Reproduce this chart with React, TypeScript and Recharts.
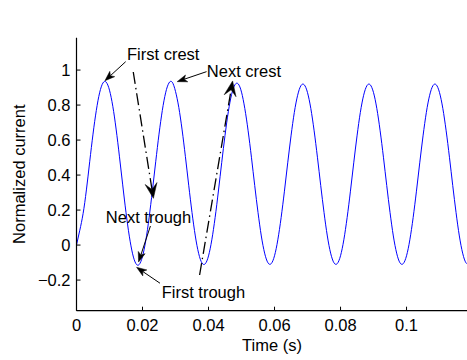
import React from 'react';
import { LineChart, Line, XAxis, YAxis, ReferenceLine, ReferenceDot } from 'recharts';

// Sampled current waveform (1 ms steps)
const timeSeconds = [
  0, 0.001, 0.002, 0.003, 0.004, 0.005, 0.006, 0.007, 0.008, 0.009,
  0.01, 0.011, 0.012, 0.013, 0.014, 0.015, 0.016, 0.017, 0.018, 0.019,
  0.02, 0.021, 0.022, 0.023, 0.024, 0.025, 0.026, 0.027, 0.028, 0.029,
  0.03, 0.031, 0.032, 0.033, 0.034, 0.035, 0.036, 0.037, 0.038, 0.039,
  0.04, 0.041, 0.042, 0.043, 0.044, 0.045, 0.046, 0.047, 0.048, 0.049,
  0.05, 0.051, 0.052, 0.053, 0.054, 0.055, 0.056, 0.057, 0.058, 0.059,
  0.06, 0.061, 0.062, 0.063, 0.064, 0.065, 0.066, 0.067, 0.068, 0.069,
  0.07, 0.071, 0.072, 0.073, 0.074, 0.075, 0.076, 0.077, 0.078, 0.079,
  0.08, 0.081, 0.082, 0.083, 0.084, 0.085, 0.086, 0.087, 0.088, 0.089,
  0.09, 0.091, 0.092, 0.093, 0.094, 0.095, 0.096, 0.097, 0.098, 0.099,
  0.1, 0.101, 0.102, 0.103, 0.104, 0.105, 0.106, 0.107, 0.108, 0.109,
  0.11, 0.111, 0.112, 0.113, 0.114, 0.115, 0.116, 0.117, 0.118, 0.119,
];

const normalizedCurrent = [
  0, 0.085, 0.18, 0.315, 0.476, 0.634, 0.769, 0.87, 0.926, 0.931,
  0.885, 0.793, 0.663, 0.508, 0.344, 0.186, 0.051, -0.05, -0.106, -0.111,
  -0.065, 0.027, 0.157, 0.312, 0.476, 0.634, 0.769, 0.87, 0.926, 0.931,
  0.878, 0.786, 0.658, 0.505, 0.342, 0.186, 0.052, -0.047, -0.102, -0.107,
  -0.062, 0.03, 0.157, 0.309, 0.472, 0.627, 0.762, 0.861, 0.916, 0.921,
  0.874, 0.78, 0.653, 0.502, 0.34, 0.186, 0.052, -0.046, -0.101, -0.106,
  -0.061, 0.03, 0.157, 0.308, 0.47, 0.624, 0.758, 0.856, 0.911, 0.916,
  0.871, 0.78, 0.653, 0.502, 0.34, 0.186, 0.052, -0.046, -0.101, -0.106,
  -0.061, 0.03, 0.157, 0.308, 0.47, 0.624, 0.758, 0.856, 0.911, 0.916,
  0.871, 0.78, 0.653, 0.502, 0.34, 0.186, 0.052, -0.046, -0.101, -0.106,
  -0.061, 0.03, 0.157, 0.308, 0.47, 0.624, 0.758, 0.856, 0.911, 0.916,
  0.871, 0.78, 0.653, 0.502, 0.34, 0.186, 0.052, -0.046, -0.101, -0.106,
];

const timeTicks = [0, 0.02, 0.04, 0.06, 0.08, 0.1];
const timeTickLabels = ['0', '0.02', '0.04', '0.06', '0.08', '0.1'];
const currentTicks = [-0.2, 0, 0.2, 0.4, 0.6, 0.8, 1];
const currentTickLabels = ['\u22120.2', '0', '0.2', '0.4', '0.6', '0.8', '1'];
const timeDomain = [0, 0.1185];
const currentDomain = [-0.375, 1.185];

// Text notes, anchored at their left baseline (time, current)
const noteLabels = ['First crest', 'Next crest', 'Next trough', 'First trough'];
const noteTimes = [0.0153, 0.0395, 0.0089, 0.0258];
const noteCurrents = [1.058, 0.962, 0.125, -0.304];

// Arrows: tail -> tip; the last two are dash-dot pointers
const arrowFromTime = [0.0149, 0.0394, 0.0224, 0.0253, 0.0172, 0.0373];
const arrowFromCurrent = [1.048, 0.991, 0.109, -0.218, 0.989, -0.171];
const arrowToTime = [0.0086, 0.0305, 0.0188, 0.0182, 0.0233, 0.0473];
const arrowToCurrent = [0.939, 0.934, -0.097, -0.127, 0.267, 0.938];
const arrowDashDot = [false, false, false, false, true, true];

const chartData = timeSeconds.map((time, i) => ({ time, current: normalizedCurrent[i] }));

const FONT = '"Liberation Sans", Arial, Helvetica, sans-serif';
const FONT_SIZE = 16.5;
const TICK_LEN = 4;

const BottomTick = (props: any) => {
  const { x, y, payload } = props;
  const i = timeTicks.indexOf(payload.value);
  return (
    <g>
      <line x1={x} x2={x} y1={y} y2={y - TICK_LEN} stroke="#000" strokeWidth={1} />
      <text x={x} y={y + 20} textAnchor="middle" fontFamily={FONT} fontSize={FONT_SIZE} fill="#000">
        {i >= 0 ? timeTickLabels[i] : ''}
      </text>
    </g>
  );
};

const TopTick = (props: any) => {
  const { x, y } = props;
  return <line x1={x} x2={x} y1={y} y2={y + TICK_LEN} stroke="#000" strokeWidth={1} />;
};

const LeftTick = (props: any) => {
  const { x, y, payload } = props;
  const i = currentTicks.indexOf(payload.value);
  return (
    <g>
      <line x1={x} x2={x + TICK_LEN} y1={y} y2={y} stroke="#000" strokeWidth={1} />
      <text x={x - 6} y={y} dy="0.36em" textAnchor="end" fontFamily={FONT} fontSize={FONT_SIZE} fill="#000">
        {i >= 0 ? currentTickLabels[i] : ''}
      </text>
    </g>
  );
};

const RightTick = (props: any) => {
  const { x, y } = props;
  return <line x1={x} x2={x - TICK_LEN} y1={y} y2={y} stroke="#000" strokeWidth={1} />;
};

const makeArrow = (dashDot: boolean) => (props: any) => {
  const { x1, y1, x2, y2 } = props;
  const dx = x2 - x1;
  const dy = y2 - y1;
  const len = Math.hypot(dx, dy) || 1;
  const ux = dx / len;
  const uy = dy / len;
  const nx = -uy;
  const ny = ux;
  const headLen = dashDot ? 15 : 10;
  const headHalf = dashDot ? 6 : 3.6;
  const notch = dashDot ? 6 : 2.5;
  const bx = x2 - ux * headLen;
  const by = y2 - uy * headLen;
  const mx = x2 - ux * (headLen - notch);
  const my = y2 - uy * (headLen - notch);
  const pts = [
    [x2, y2],
    [bx + nx * headHalf, by + ny * headHalf],
    [mx, my],
    [bx - nx * headHalf, by - ny * headHalf],
  ]
    .map((p) => p.join(','))
    .join(' ');
  return (
    <g>
      <line
        x1={x1}
        y1={y1}
        x2={mx}
        y2={my}
        stroke="#000"
        strokeWidth={dashDot ? 1.3 : 1}
        strokeDasharray={dashDot ? '12 4 1.5 4' : undefined}
      />
      <polygon points={pts} fill="#000" stroke="#000" strokeWidth={0.5} />
    </g>
  );
};

const makeNote = (text: string) => (props: any) => (
  <text x={props.cx} y={props.cy} textAnchor="start" fontFamily={FONT} fontSize={FONT_SIZE} fill="#000">
    {text}
  </text>
);

export default function App() {
  return (
    <div style={{ position: 'absolute', left: 0, top: 0, width: 467, height: 360, overflow: 'hidden', background: '#fff' }}>
      <LineChart
        width={470}
        height={360}
        data={chartData}
        margin={{ top: 37.7, right: 2.4, bottom: 19.3, left: 16.5 }}
        style={{ fontFamily: FONT }}
      >
        <XAxis
          xAxisId="bottom"
          dataKey="time"
          type="number"
          domain={timeDomain}
          ticks={timeTicks}
          allowDataOverflow
          height={30}
          tickSize={0}
          tickMargin={0}
          tickLine={false}
          tick={BottomTick}
          axisLine={{ stroke: '#000', strokeWidth: 1.2 }}
          label={(p: any) => {
            const vb = p.viewBox;
            return (
              <text x={vb.x + vb.width / 2} y={vb.y + 40.5} textAnchor="middle" fontFamily={FONT} fontSize={FONT_SIZE} fill="#000">
                Time (s)
              </text>
            );
          }}
        />
        <XAxis
          xAxisId="top"
          orientation="top"
          dataKey="time"
          type="number"
          domain={timeDomain}
          ticks={timeTicks}
          allowDataOverflow
          height={0}
          tickSize={0}
          tickMargin={0}
          tickLine={false}
          tick={TopTick}
          axisLine={{ stroke: '#000', strokeWidth: 1.2 }}
          label={(p: any) => {
            const vb = p.viewBox;
            return (
              <text x={vb.x + vb.width / 2} y={vb.y - 14} textAnchor="middle" fontFamily={FONT} fontSize={FONT_SIZE} fill="#000">
                2nd step
              </text>
            );
          }}
        />
        <YAxis
          yAxisId="left"
          type="number"
          domain={currentDomain}
          ticks={currentTicks}
          allowDataOverflow
          width={60}
          tickSize={0}
          tickMargin={0}
          tickLine={false}
          tick={LeftTick}
          axisLine={{ stroke: '#000', strokeWidth: 1.2 }}
          label={(p: any) => {
            const vb = p.viewBox;
            const cx = vb.x + 9;
            const cy = vb.y + vb.height / 2;
            return (
              <text
                x={cx}
                y={cy}
                transform={`rotate(-90, ${cx}, ${cy})`}
                textAnchor="middle"
                fontFamily={FONT}
                fontSize={FONT_SIZE}
                fill="#000"
              >
                Normalized current
              </text>
            );
          }}
        />
        <YAxis
          yAxisId="right"
          orientation="right"
          type="number"
          domain={currentDomain}
          ticks={currentTicks}
          allowDataOverflow
          width={0}
          tickSize={0}
          tickMargin={0}
          tickLine={false}
          tick={RightTick}
          axisLine={{ stroke: '#000', strokeWidth: 1.2 }}
        />
        <Line
          xAxisId="top"
          yAxisId="right"
          dataKey="current"
          stroke="none"
          dot={false}
          activeDot={false}
          isAnimationActive={false}
        />
        <Line
          xAxisId="bottom"
          yAxisId="left"
          type="natural"
          dataKey="current"
          stroke="#0000ff"
          strokeWidth={1}
          dot={false}
          activeDot={false}
          isAnimationActive={false}
        />
        {arrowFromTime.map((t, i) => (
          <ReferenceLine
            key={`arrow-${i}`}
            xAxisId="bottom"
            yAxisId="left"
            ifOverflow="visible"
            segment={[
              { x: t, y: arrowFromCurrent[i] },
              { x: arrowToTime[i], y: arrowToCurrent[i] },
            ]}
            shape={makeArrow(arrowDashDot[i])}
          />
        ))}
        {noteLabels.map((label, i) => (
          <ReferenceDot
            key={`note-${i}`}
            xAxisId="bottom"
            yAxisId="left"
            ifOverflow="visible"
            x={noteTimes[i]}
            y={noteCurrents[i]}
            r={0}
            shape={makeNote(label)}
          />
        ))}
      </LineChart>
    </div>
  );
}
